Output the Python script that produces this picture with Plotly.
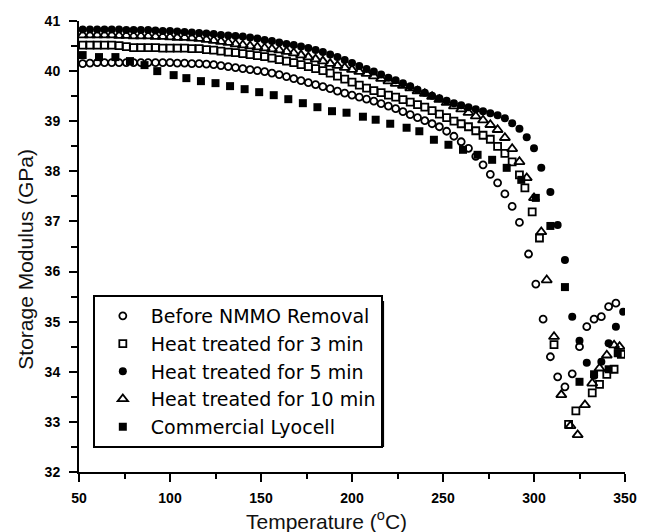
import plotly.graph_objects as go

# ---------------- data ----------------
t_before = [52, 56, 60, 64, 68, 72, 76, 80, 84, 88, 92, 96, 100, 104, 108, 112, 116, 120, 124, 128,
            132, 136, 140, 144, 148, 152, 156, 160, 164, 168, 172, 176, 180, 184, 188, 192, 196, 200,
            204, 208, 212, 216, 220, 224, 228, 232, 236, 240, 244, 248, 252, 256, 260, 264, 268, 272,
            276, 280, 284, 288, 292, 297, 301, 305, 309, 313, 317, 321, 325, 329, 333, 337, 341, 345]
e_before = [40.15, 40.16, 40.17, 40.17, 40.17, 40.17, 40.17, 40.17, 40.17, 40.17, 40.17, 40.17, 40.17,
            40.16, 40.16, 40.15, 40.15, 40.14, 40.13, 40.11, 40.09, 40.07, 40.05, 40.03, 40.01, 39.99,
            39.96, 39.93, 39.89, 39.85, 39.81, 39.77, 39.73, 39.69, 39.65, 39.60, 39.56, 39.52, 39.48,
            39.44, 39.40, 39.35, 39.30, 39.25, 39.19, 39.13, 39.07, 39.01, 38.95, 38.89, 38.80, 38.70,
            38.59, 38.46, 38.30, 38.13, 37.94, 37.77, 37.55, 37.30, 36.98, 36.35, 35.75, 35.05, 34.30,
            33.90, 33.70, 33.96, 34.50, 34.90, 35.05, 35.10, 35.30, 35.37]

t_3min = [52, 56, 60, 64, 68, 72, 76, 80, 84, 88, 92, 96, 100, 104, 108, 112, 116, 120, 124, 128,
          132, 136, 140, 144, 148, 152, 156, 160, 164, 168, 172, 176, 180, 184, 188, 192, 196, 200,
          204, 208, 212, 216, 220, 224, 228, 232, 236, 240, 244, 248, 252, 256, 260, 264, 268, 272,
          276, 280, 284, 288, 292, 295, 299, 303, 311, 319, 323, 332, 336, 340, 344, 348]
e_3min = [40.52, 40.52, 40.52, 40.52, 40.52, 40.51, 40.49, 40.47, 40.47, 40.47, 40.47, 40.46, 40.46,
          40.46, 40.46, 40.45, 40.45, 40.43, 40.42, 40.40, 40.38, 40.37, 40.35, 40.33, 40.31, 40.29,
          40.26, 40.23, 40.20, 40.17, 40.13, 40.09, 40.05, 40.01, 39.96, 39.90, 39.84, 39.78, 39.72,
          39.66, 39.61, 39.57, 39.52, 39.48, 39.43, 39.38, 39.33, 39.28, 39.21, 39.14, 39.07, 39.00,
          38.95, 38.89, 38.81, 38.72, 38.64, 38.50, 38.36, 38.19, 37.93, 37.67, 37.19, 36.67, 34.54,
          32.95, 33.22, 33.58, 33.75, 33.95, 34.05, 34.35]

t_5min = [52, 56, 60, 64, 68, 72, 76, 80, 84, 88, 92, 96, 100, 104, 108, 112, 116, 120, 124, 128,
          132, 136, 140, 144, 148, 152, 156, 160, 164, 168, 172, 176, 180, 184, 188, 192, 196, 200,
          204, 208, 212, 216, 220, 224, 228, 232, 236, 240, 244, 248, 252, 256, 260, 264, 268, 272,
          276, 280, 284, 288, 292, 296, 300, 304, 309, 313, 317, 321, 325, 329, 333, 337, 341, 345, 349]
e_5min = [40.83, 40.83, 40.83, 40.83, 40.83, 40.83, 40.82, 40.82, 40.82, 40.82, 40.81, 40.80, 40.80,
          40.79, 40.78, 40.77, 40.76, 40.75, 40.74, 40.72, 40.71, 40.70, 40.69, 40.67, 40.65, 40.62,
          40.60, 40.57, 40.54, 40.52, 40.49, 40.46, 40.42, 40.38, 40.33, 40.28, 40.22, 40.16, 40.10,
          40.04, 39.99, 39.93, 39.87, 39.82, 39.76, 39.70, 39.63, 39.57, 39.51, 39.46, 39.41, 39.36,
          39.32, 39.28, 39.24, 39.20, 39.16, 39.12, 39.06, 38.96, 38.85, 38.68, 38.46, 38.07, 37.59,
          36.93, 36.23, 35.10, 34.62, 34.18, 33.92, 34.20, 34.57, 34.90, 35.20]

t_10min = [52, 56, 60, 64, 68, 72, 76, 80, 84, 88, 92, 96, 100, 104, 108, 112, 116, 120, 124, 128,
           132, 136, 140, 144, 148, 152, 156, 160, 164, 168, 172, 176, 180, 184, 188, 192, 196, 200,
           204, 208, 212, 216, 220, 224, 228, 232, 236, 240, 244, 248, 252, 256, 260, 264, 268, 272,
           276, 280, 284, 288, 292, 296, 300, 304, 307, 311, 315, 320, 324, 328, 332, 336, 340, 344, 347]
e_10min = [40.72, 40.72, 40.72, 40.72, 40.72, 40.71, 40.71, 40.70, 40.70, 40.70, 40.69, 40.69, 40.68,
           40.67, 40.67, 40.66, 40.65, 40.63, 40.61, 40.59, 40.57, 40.54, 40.52, 40.50, 40.48, 40.46,
           40.44, 40.42, 40.39, 40.36, 40.32, 40.28, 40.24, 40.20, 40.15, 40.11, 40.07, 40.03, 39.99,
           39.95, 39.90, 39.85, 39.80, 39.75, 39.71, 39.66, 39.60, 39.55, 39.49, 39.43, 39.37, 39.30,
           39.24, 39.17, 39.10, 39.02, 38.93, 38.83, 38.67, 38.45, 38.19, 37.87, 37.47, 36.79, 35.83,
           34.70, 33.54, 32.92, 32.74, 33.34, 33.77, 34.07, 34.33, 34.53, 34.50]

t_lyocell = [52, 61, 70, 78, 86, 93, 102, 109, 117, 125, 133, 141, 149, 157, 165, 173, 181, 189, 197,
             206, 213, 221, 230, 237, 245, 253, 261, 269, 277, 285, 293, 301, 309, 317, 325, 333, 341, 346]
e_lyocell = [40.32, 40.28, 40.28, 40.20, 40.12, 40.00, 39.92, 39.86, 39.80, 39.76, 39.70, 39.64, 39.58,
             39.52, 39.44, 39.36, 39.28, 39.20, 39.17, 39.09, 39.03, 38.95, 38.87, 38.80, 38.63, 38.53,
             38.43, 38.33, 38.23, 38.07, 37.83, 37.47, 36.91, 35.69, 33.80, 33.95, 34.05, 34.37]

series_names = ["Before NMMO Removal", "Heat treated for 3 min", "Heat treated for 5 min",
                "Heat treated for 10 min", "Commercial Lyocell"]

x_ticks = [50, 100, 150, 200, 250, 300, 350]
y_ticks = [32, 33, 34, 35, 36, 37, 38, 39, 40, 41]

# ---------------- figure ----------------
W, H = 649, 532
ML, MR, MT, MB = 79, 17, 21, 60
PW, PH = W - ML - MR, H - MT - MB

def px_to_paper_x(px):
    return (px - ML) / PW

def px_to_paper_y(py):
    return (H - MB - py) / PH

fig = go.Figure()

styles = [
    dict(symbol="circle-open", size=7, color="black", line=dict(width=1.8, color="black")),
    dict(symbol="square-open", size=7, color="black", line=dict(width=1.8, color="black")),
    dict(symbol="circle", size=8, color="black", line=dict(width=0)),
    dict(symbol="triangle-up-open", size=9, color="black", line=dict(width=1.8, color="black")),
    dict(symbol="square", size=8, color="black", line=dict(width=0)),
]
data = [(t_before, e_before), (t_3min, e_3min), (t_5min, e_5min), (t_10min, e_10min),
        (t_lyocell, e_lyocell)]

for (tx, ey), name, st in zip(data, series_names, styles):
    fig.add_trace(go.Scatter(x=tx, y=ey, mode="markers", name=name, marker=st))

axis_common = dict(
    showline=True, linecolor="black", linewidth=2, mirror=False,
    ticks="outside", ticklen=8, tickwidth=2, tickcolor="black",
    showgrid=False, zeroline=False,
    tickfont=dict(family="Arial, Liberation Sans", size=14, color="black", weight="bold"),
)

fig.update_xaxes(range=[50, 350], tickvals=x_ticks, ticktext=[str(v) for v in x_ticks],
                 minor=dict(ticks="outside", ticklen=5, tickwidth=2, tickcolor="black", dtick=25),
                 ticklabelstandoff=4, **axis_common)
fig.update_yaxes(range=[32, 41], tickvals=y_ticks, ticktext=[str(v) for v in y_ticks],
                 minor=dict(ticks="outside", ticklen=6, tickwidth=2, tickcolor="black", dtick=0.5),
                 ticklabelstandoff=6, **axis_common)

# Legend box (drawn by plotly) and its drop shadow
LEG_L, LEG_T = 93, 295
fig.add_shape(type="rect", xref="paper", yref="paper",
              x0=px_to_paper_x(LEG_L + 6), x1=px_to_paper_x(LEG_L + 289 + 6),
              y0=px_to_paper_y(LEG_T + 146 + 6), y1=px_to_paper_y(LEG_T + 6),
              fillcolor="black", line=dict(width=0), layer="above")

fig.update_layout(
    width=W, height=H,
    margin=dict(l=ML, r=MR, t=MT, b=MB),
    paper_bgcolor="white", plot_bgcolor="white",
    showlegend=True,
    legend=dict(x=px_to_paper_x(LEG_L), y=px_to_paper_y(LEG_T), xanchor="left", yanchor="top",
                bgcolor="white", bordercolor="black", borderwidth=2,
                font=dict(family="DejaVu Sans", size=19, color="black"),
                itemwidth=46),
    annotations=[
        dict(text="Temperature (<sup>o</sup>C)", xref="paper", yref="paper",
             x=px_to_paper_x(330), y=px_to_paper_y(520), showarrow=False,
             xanchor="center", yanchor="middle",
             font=dict(family="Arial, Liberation Sans", size=21, color="#111")),
        dict(text="Storage Modulus (GPa)", xref="paper", yref="paper",
             x=px_to_paper_x(24), y=px_to_paper_y(259), showarrow=False, textangle=-90,
             xanchor="center", yanchor="middle",
             font=dict(family="Arial, Liberation Sans", size=21, color="#111")),
    ],
)

fig.write_html("out.html")
